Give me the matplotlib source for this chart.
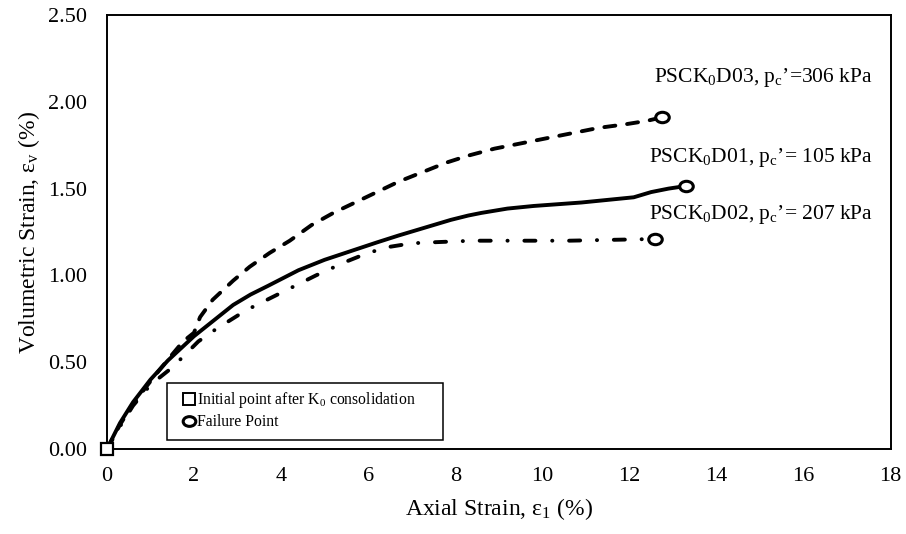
import matplotlib
matplotlib.use('Agg')
from matplotlib import pyplot as plt
from matplotlib.lines import Line2D
from matplotlib.markers import MarkerStyle
from matplotlib.patches import Rectangle
from matplotlib.transforms import Affine2D

plt.rcParams['font.family'] = ['Liberation Serif', 'DejaVu Serif']
plt.rcParams['mathtext.fontset'] = 'custom'
plt.rcParams['mathtext.rm'] = 'Liberation Serif'
plt.rcParams['mathtext.it'] = 'Liberation Serif:italic'

# PSCK0D01, pc' = 105 kPa (solid)
d01_x = [0, 0.3, 0.6, 1.0, 1.4, 2.0, 2.5, 2.9, 3.3, 3.7, 4.4, 5.0, 5.6, 6.2, 6.7, 7.3, 7.9, 8.3,
         8.6, 9.2, 9.8, 10.9, 12.1, 12.5, 12.9, 13.3]
d01_y = [0, 0.15, 0.27, 0.40, 0.51, 0.65, 0.75, 0.83, 0.89, 0.94, 1.03, 1.09, 1.14, 1.19, 1.23,
         1.275, 1.32, 1.345, 1.36, 1.385, 1.40, 1.42, 1.45, 1.48, 1.50, 1.515]

# PSCK0D02, pc' = 207 kPa (dash-dot)
d02_x = [0, 0.3, 0.6, 1.0, 1.5, 2.1, 2.5, 3.2, 4.0, 4.8, 5.5, 6.0, 6.5, 7.0, 7.4, 8.4, 10.6, 12.6]
d02_y = [0, 0.13, 0.25, 0.37, 0.47, 0.62, 0.69, 0.80, 0.90, 1.00, 1.08, 1.13, 1.165, 1.185, 1.19,
         1.20, 1.20, 1.21]

# PSCK0D03, pc' = 306 kPa (dashed)
d03_x = [0, 0.3, 0.6, 1.06, 1.45, 1.75, 2.0, 2.14, 2.43, 2.9, 3.28, 3.74, 4.2, 4.7, 5.2, 5.7,
         6.2, 6.7, 7.3, 7.8, 8.3, 8.9, 9.5, 10.1, 10.7, 11.3, 11.9, 12.4, 12.74]
d03_y = [0, 0.14, 0.26, 0.41, 0.53, 0.62, 0.67, 0.76, 0.86, 0.97, 1.05, 1.13, 1.20, 1.29, 1.36, 1.42,
         1.48, 1.54, 1.60, 1.65, 1.69, 1.73, 1.76, 1.79, 1.82, 1.85, 1.87, 1.89, 1.91]

labels = [r"PSCK$_0$D03, p$_\mathrm{c}$’=306 kPa",
          r"PSCK$_0$D01, p$_\mathrm{c}$’= 105 kPa",
          r"PSCK$_0$D02, p$_\mathrm{c}$’= 207 kPa"]
label_y = [2.14, 1.68, 1.35]

x_ticks = list(range(0, 19, 2))
y_ticks = [0, 0.5, 1.0, 1.5, 2.0, 2.5]

fig = plt.figure(figsize=(9.06, 5.34), dpi=100)
ax = fig.add_axes([0.118, 0.159, 0.865, 0.813])

# slightly wide open circle used by the original for failure points
oval = MarkerStyle('o', transform=Affine2D().scale(1.3, 1.0))

lw = 2.8
ax.plot(d01_x, d01_y, color='black', lw=lw, solid_capstyle='round', solid_joinstyle='round')
ax.plot(d02_x, d02_y, color='black', lw=lw, dash_capstyle='round',
        dashes=(2.85, 4.3, 0.05, 4.3))
ax.plot(d03_x, d03_y, color='black', lw=lw, dash_capstyle='round',
        dashes=(2.85, 3.05))

# failure points
for xs, ys in [(d01_x, d01_y), (d02_x, d02_y), (d03_x, d03_y)]:
    ax.plot(xs[-1], ys[-1], ls='none', marker=oval, ms=7.5, mfc='white', mec='black', mew=2.2, zorder=5)

# initial point
ax.plot(0, 0, 's', ms=8.5, mfc='white', mec='black', mew=1.6, zorder=6, clip_on=False)

for txt, yy in zip(labels, label_y):
    ax.text(17.6, yy, txt, ha='right', va='center', fontsize=15.5)

ax.set_xlim(0, 18)
ax.set_ylim(0, 2.5)
ax.set_xticks(x_ticks)
ax.set_yticks(y_ticks)
ax.set_yticklabels(['%.2f' % v for v in y_ticks])
ax.tick_params(length=0, labelsize=16)
ax.tick_params(axis='x', pad=13)
ax.tick_params(axis='y', pad=14)
for s in ax.spines.values():
    s.set_linewidth(1.4)
    s.set_color('black')

ax.set_xlabel(r"Axial Strain, ε$_1$ (%)", fontsize=17, labelpad=7)
ax.set_ylabel(r"Volumetric Strain, ε$_\mathrm{v}$ (%)", fontsize=17, labelpad=5)

# legend box drawn separately so it can be padded like the original
ax.add_patch(Rectangle((0.0765, 0.021), 0.3525, 0.131, transform=ax.transAxes,
                       fill=False, edgecolor='black', lw=1.1, zorder=4))
handles = [Line2D([], [], ls='none', marker='s', ms=8, mfc='white', mec='black', mew=1.4),
           Line2D([], [], ls='none', marker=oval, ms=7, mfc='white', mec='black', mew=2.2)]
ax.legend(handles, ["Initial point after K$_0$ consolidation", "Failure Point"],
          loc='upper left', bbox_to_anchor=(0.098, 0.135), frameon=False,
          fontsize=11.3, handlelength=0.7, handletextpad=0.15, borderpad=0,
          borderaxespad=0, labelspacing=0.25)

fig.savefig('out.png', dpi=100)
